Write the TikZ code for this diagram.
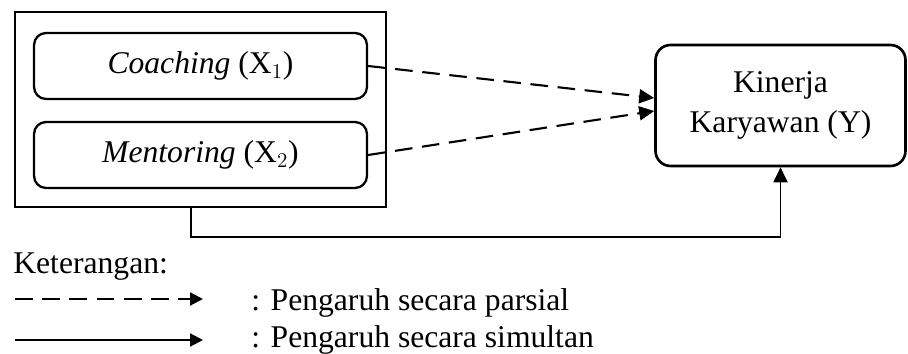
\documentclass[tikz,border=0pt]{standalone}
\usepackage{fontspec}
\setmainfont{Liberation Serif}
\usetikzlibrary{arrows.meta}

\newcommand*{\boxW}{6.66cm}
\newcommand*{\boxH}{1.32cm}

\tikzset{
    varbox/.style={draw, line width=1.3pt, rounded corners=0.24cm, minimum width=\boxW, minimum height=\boxH, inner sep=0pt},
    partial/.style={line width=1.2pt, dash pattern=on 10pt off 5.5pt, -{Triangle[length=0.3cm,width=0.28cm]}},
    simultan/.style={line width=1.1pt, -{Triangle[length=0.3cm,width=0.28cm]}}
}

\begin{document}
\begin{tikzpicture}[x=0.02cm, y=-0.02cm, font=\fontsize{18}{21}\selectfont]
\useasboundingbox (0,0) rectangle (908,354);

% outer frame and the two variables
\node[draw, line width=0.8pt, minimum width=7.42cm, minimum height=3.9cm, inner sep=0pt] (frame) at (200.5,109.5) {};
\node[varbox] (coach) at (200.5,66) {\textit{Coaching} (X$_1$)};
\node[varbox] (mentor) at (200.5,155) {\textit{Mentoring} (X$_2$)};

% dependent variable
\node[draw, line width=1.5pt, rounded corners=0.3cm, minimum width=5.0cm, minimum height=2.42cm, inner sep=0pt, align=center] (kinerja) at (780.5,105.5) {Kinerja\\[1.8pt]Karyawan (Y)};

% partial effects
\draw[partial] (coach.east) -- ([yshift=0.15cm]kinerja.west);
\draw[partial] (mentor.east) -- ([yshift=-0.11cm]kinerja.west);

% simultaneous effect
\coordinate (start) at (191,207);
\draw[simultan] (start) -- (191,237) -| (kinerja.south);

% legend
\node[anchor=base west, inner sep=0pt] (ket) at (13,274) {Keterangan:};
\coordinate (l1a) at (15,299);
\coordinate (l1b) at (203,299);
\coordinate (l2a) at (15,340);
\coordinate (l2b) at (203,340);
\draw[line width=1.2pt, dash pattern=on 10pt off 5.5pt, -{Triangle[length=0.26cm,width=0.26cm]}] (l1a) -- (l1b);
\draw[line width=1.2pt, -{Triangle[length=0.26cm,width=0.26cm]}] (l2a) -- (l2b);
\node[anchor=base west, inner sep=0pt] (parsial) at (251,310) {: Pengaruh secara parsial};
\node[anchor=base west, inner sep=0pt] (simul) at (251,347) {: Pengaruh secara simultan};

\end{tikzpicture}
\end{document}
